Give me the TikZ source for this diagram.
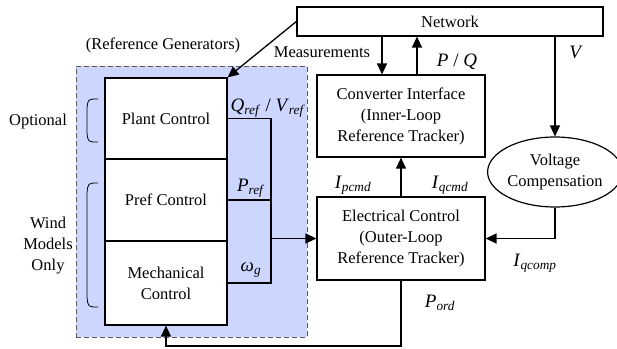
\documentclass[tikz,border=0pt]{standalone}
\usepackage{fontspec}
\setmainfont{Liberation Serif}
\usetikzlibrary{arrows.meta,shapes.geometric}
\definecolor{refblue}{RGB}{204,214,255}
\newcommand{\mysub}[2]{\textit{#1}\textsubscript{\textit{#2}}}
\begin{document}
\begin{tikzpicture}[x=1pt,y=-1pt,
  box/.style={draw,line width=1.2pt,fill=white,align=center,inner sep=0pt,font=\fontsize{16.5}{21}\selectfont},
  txt/.style={align=center,inner sep=0pt,font=\fontsize{16.5}{21}\selectfont},
  lbl/.style={inner sep=0pt,font=\fontsize{19}{22}\selectfont},
  ln/.style={line width=1.3pt},
  arr/.style={line width=1.3pt,-{Triangle[length=11pt,width=10pt]}},
  brace/.style={line width=0.8pt}]
\useasboundingbox (0,0) rectangle (617,348);
% reference generator area
\node[draw=black!65,dashed,dash pattern=on 5pt off 3pt,line width=0.9pt,fill=refblue,minimum width=231pt,minimum height=271pt,inner sep=0pt] (ref) at (191.5,201.5) {};
% boxes
\node[box,minimum width=306pt,minimum height=29pt] (net) at (450,21.5) {Network};
\node[box,minimum width=122pt,minimum height=81pt] (plant) at (166,118.5) {Plant Control};
\node[box,minimum width=122pt,minimum height=82pt] (pref) at (166,200) {Pref Control};
\node[box,minimum width=122pt,minimum height=84pt] (mech) at (166,283) {Mechanical\\Control};
\node[box,minimum width=168pt,minimum height=82pt] (conv) at (401,116) {Converter Interface\\(Inner-Loop\\Reference Tracker)};
\node[box,minimum width=168pt,minimum height=83pt] (elec) at (401,238.5) {Electrical Control\\(Outer-Loop\\Reference Tracker)};
\node[box,ellipse,minimum width=124pt,minimum height=70pt] (volt) at (555,172) {Voltage\\Compensation};
% helper coordinates
\coordinate (mx) at (382,0);
\coordinate (pqx) at (417,0);
\coordinate (bus) at (271,0);
\coordinate (bot) at (0,346);
% connectors
\draw[arr] (net.west) -- (plant.north east);
\draw[arr] (net.south -| mx) -- (conv.north -| mx);
\draw[arr] (conv.north -| pqx) -- (net.south -| pqx);
\draw[arr] (net.south -| volt.north) -- (volt.north);
\draw[arr] (volt.south) -- (volt.south |- elec.east) -- (elec.east);
\draw[arr] (elec.north) -- (conv.south);
\draw[arr] (elec.south) -- (elec.south |- bot) -- (mech.south |- bot) -- (mech.south);
\draw[ln] (plant.east) -- (plant.east -| bus) -- (mech.east -| bus) -- (mech.east);
\draw[ln] (pref.east) -- (pref.east -| bus);
\draw[arr] (elec.west -| bus) -- (elec.west);
% braces
\draw[brace] (98,99) .. controls (88,99) .. (87,108) -- (87,133) .. controls (88,142) .. (98,142);
\draw[brace] (98,183) .. controls (88,183) .. (87,193) -- (87,297) .. controls (88,307) .. (98,307);
% texts
\node[txt] (tref) at (163,45) {(Reference Generators)};
\node[txt] (tmeas) at (322,52) {Measurements};
\node[txt] (topt) at (38,122) {Optional};
\node[txt] (twind) at (48,246) {Wind\\Models\\Only};
% labels
\node[lbl] (lpq) at (457,62) {\textit{P} / \textit{Q}};
\node[lbl] (lv) at (576,52) {\textit{V}};
\node[lbl] (lqref) at (268,108) {\mysub{Q}{ref} / \mysub{V}{ref}};
\node[lbl] (lpref) at (251,188) {\mysub{P}{ref}};
\node[lbl] (lwg) at (251,270) {\mysub{ω}{g}};
\node[lbl] (lpcmd) at (353,185) {\mysub{I}{pcmd}};
\node[lbl] (lqcmd) at (450,185) {\mysub{I}{qcmd}};
\node[lbl] (lqcomp) at (535,263) {\mysub{I}{qcomp}};
\node[lbl] (lpord) at (440,303) {\mysub{P}{ord}};
\end{tikzpicture}
\end{document}
